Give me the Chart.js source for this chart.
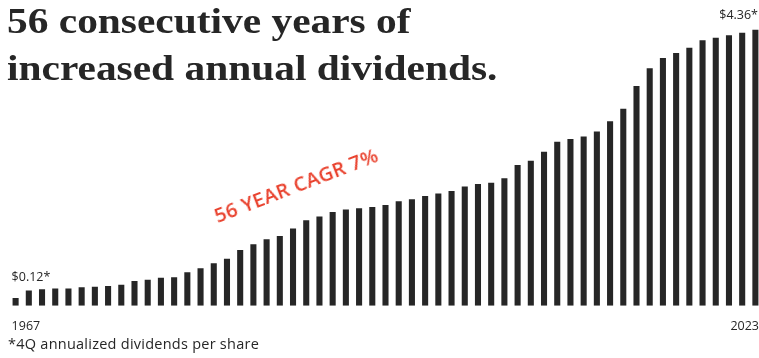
<!DOCTYPE html>
<html>
<head>
<meta charset="utf-8">
<script src="https://cdn.jsdelivr.net/npm/chart.js@4.4.0/dist/chart.umd.min.js"></script>
<style>
  html, body { margin: 0; padding: 0; background: #fff; overflow: hidden; width: 759px; height: 358px; }
  #wrap { position: relative; width: 759px; height: 358px; }
  #dividendos { position: absolute; left: 0; top: 0; }
  .titulo { position: absolute; left: 7px; font-family: "Liberation Serif", serif; font-weight: bold; color: #262626; font-size: 36px; white-space: nowrap; line-height: 1; transform-origin: 0 0; transform: scaleX(1.15); }
  .nota { position: absolute; left: 8px; top: 337px; font-family: "Open Sans", sans-serif; font-size: 14.5px; line-height: 1; letter-spacing: 0.25px; color: #262626; white-space: nowrap; }
  .cagr { position: absolute; left: 296px; top: 185px; font-family: "Open Sans", sans-serif; font-weight: 600; font-size: 20px; color: #e9432f; white-space: nowrap; transform: translate(-50%, -50%) rotate(-21deg); letter-spacing: 0.3px; }
</style>
</head>
<body>
<div id="wrap">
  <canvas id="dividendos" width="762" height="358"></canvas>
  <div class="titulo" style="top:3px">56 consecutive years of</div>
  <div class="titulo" style="top:50px">increased annual dividends.</div>
  <div class="cagr">56 YEAR CAGR 7%</div>
  <div class="nota">*4Q annualized dividends per share</div>
</div>
<script>
var anos = [1967, 1968, 1969, 1970, 1971, 1972, 1973, 1974, 1975, 1976,
            1977, 1978, 1979, 1980, 1981, 1982, 1983, 1984, 1985, 1986,
            1987, 1988, 1989, 1990, 1991, 1992, 1993, 1994, 1995, 1996,
            1997, 1998, 1999, 2000, 2001, 2002, 2003, 2004, 2005, 2006,
            2007, 2008, 2009, 2010, 2011, 2012, 2013, 2014, 2015, 2016,
            2017, 2018, 2019, 2020, 2021, 2022, 2023];
var dividendos = [0.12, 0.24, 0.26, 0.27, 0.27, 0.29, 0.30, 0.31, 0.33, 0.39,
                  0.41, 0.44, 0.45, 0.53, 0.59, 0.67, 0.74, 0.88, 0.97, 1.05,
                  1.10, 1.22, 1.35, 1.41, 1.48, 1.52, 1.54, 1.56, 1.59, 1.65,
                  1.68, 1.73, 1.77, 1.81, 1.88, 1.92, 1.94, 2.01, 2.22, 2.29,
                  2.43, 2.59, 2.63, 2.67, 2.75, 2.91, 3.11, 3.47, 3.75, 3.91,
                  3.99, 4.07, 4.19, 4.23, 4.27, 4.31, 4.36];
var rotulos_valor = ["$0.12*", "$4.36*"];
var rotulos_ano = ["1967", "2023"];

var cor_barra = "#262626";

// escreve os valores e anos nas pontas
const rotulos_plugin = {
    id: 'rotulos',
    afterDatasetsDraw(chart) {
        const ctx = chart.ctx;
        const meta = chart.getDatasetMeta(0);
        const primeira = meta.data[0];
        const ultima = meta.data[meta.data.length - 1];
        ctx.save();
        ctx.fillStyle = cor_barra;
        ctx.font = '12.5px "Open Sans", sans-serif';
        ctx.textBaseline = 'alphabetic';
        ctx.textAlign = 'left';
        ctx.fillText(rotulos_valor[0], primeira.x - 4, primeira.y - 17);
        ctx.fillText(rotulos_ano[0], primeira.x - 4, 330);
        ctx.textAlign = 'right';
        ctx.fillText(rotulos_valor[1], 758, ultima.y - 11);
        ctx.fillText(rotulos_ano[1], 759, 330);
        ctx.restore();
    }
};

function renderiza_dividendos(){
    const ctx = document.getElementById('dividendos').getContext('2d');
    new Chart(ctx, {
        type: 'bar',
        data: {
            labels: anos,
            datasets: [{
                data: dividendos,
                backgroundColor: cor_barra,
                borderWidth: 0,
                barPercentage: 0.46,
                categoryPercentage: 1.0
            }]
        },
        options: {
            responsive: false,
            animation: false,
            layout: { padding: { left: 9, right: 0, top: 29.5, bottom: 52.3 } },
            plugins: { legend: { display: false }, tooltip: { enabled: false } },
            scales: {
                x: { display: false },
                y: { display: false, min: 0, max: 4.36 }
            }
        },
        plugins: [rotulos_plugin]
    });
}

window.onload = function () {
    renderiza_dividendos();
};
</script>
</body>
</html>
